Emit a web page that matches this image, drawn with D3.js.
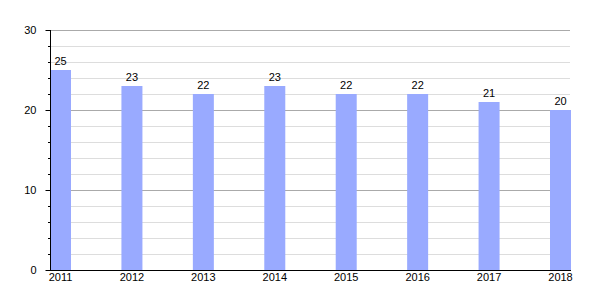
<!DOCTYPE html>
<html>
<head>
<meta charset="utf-8">
<script src="https://cdn.jsdelivr.net/npm/d3@7"></script>
<style>
  body { margin: 0; background: #fff; }
  text { font-family: "Liberation Sans", Arial, sans-serif; font-size: 11px; fill: #000; }
</style>
</head>
<body>
<svg id="chart" width="600" height="300"></svg>
<script>
const years = ['2011','2012','2013','2014','2015','2016','2017','2018']
const values = [25,23,22,23,22,22,21,20]
const majorTicks = [0,10,20,30]
const minorTicks = [2,4,6,8,12,14,16,18,22,24,26,28]

const svg = d3.select('#chart')
const mLeft = 50, mRight = 571, mTop = 30, mBottom = 270

const x = d3.scaleBand().domain(years).range([mLeft,mRight]).paddingInner(0.706).paddingOuter(0)
const y = d3.scaleLinear().domain([0,30]).range([mBottom,mTop])

// gridlines
svg.append('g').selectAll('line').data(minorTicks).join('line')
  .attr('x1',mLeft).attr('x2',mRight-1)
  .attr('y1',d=>Math.round(y(d))+0.5).attr('y2',d=>Math.round(y(d))+0.5)
  .attr('stroke','#dddddd')
svg.append('g').selectAll('line').data(majorTicks.filter(d=>d>0)).join('line')
  .attr('x1',mLeft).attr('x2',mRight-1)
  .attr('y1',d=>Math.round(y(d))+0.5).attr('y2',d=>Math.round(y(d))+0.5)
  .attr('stroke','#aaaaaa')

// bars
svg.append('g').selectAll('rect').data(values).join('rect')
  .attr('x',(d,i)=>x(years[i]))
  .attr('y',d=>y(d))
  .attr('width',x.bandwidth())
  .attr('height',d=>mBottom-y(d))
  .attr('fill','#99aaff')

// value labels
svg.append('g').selectAll('text').data(values).join('text')
  .attr('x',(d,i)=>x(years[i])+x.bandwidth()/2)
  .attr('y',d=>y(d)-5)
  .attr('text-anchor','middle')
  .text(d=>d)

// y axis
const yAxis = svg.append('g').attr('transform',`translate(${mLeft+0.5},0)`)
  .call(d3.axisLeft(y).tickValues(majorTicks).tickSize(5).tickPadding(9).tickFormat(d3.format('d')))
yAxis.select('.domain').remove()
yAxis.selectAll('line').attr('stroke','#000')
yAxis.selectAll('text').style('font-size','11px').attr('fill','#000')
svg.append('g').selectAll('line').data(minorTicks).join('line')
  .attr('x1',mLeft-2).attr('x2',mLeft)
  .attr('y1',d=>Math.round(y(d))+0.5).attr('y2',d=>Math.round(y(d))+0.5)
  .attr('stroke','#000')
svg.append('line').attr('x1',mLeft+0.5).attr('x2',mLeft+0.5).attr('y1',mTop).attr('y2',mBottom)
  .attr('stroke','#000')

// x axis
const xAxis = svg.append('g').attr('transform',`translate(0,${mBottom+0.5})`)
  .call(d3.axisBottom(x).tickSize(0).tickPadding(3))
xAxis.select('.domain').remove()
xAxis.selectAll('text').style('font-size','11px').attr('fill','#000')
svg.append('line').attr('x1',mLeft).attr('x2',mRight).attr('y1',mBottom+0.5).attr('y2',mBottom+0.5)
  .attr('stroke','#000')
</script>
</body>
</html>
